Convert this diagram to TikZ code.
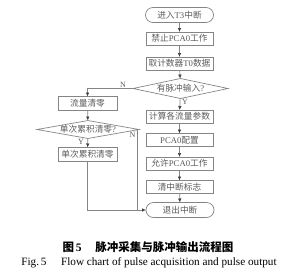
\documentclass[tikz,border=0pt]{standalone}
\usepackage{fontspec}
\setmainfont{Liberation Serif}
\newfontfamily\cjk{Noto Sans CJK SC}
\newfontfamily\latn{Liberation Serif}
\usetikzlibrary{shapes.geometric,arrows.meta}
\definecolor{lc}{HTML}{858585}
\definecolor{tc}{HTML}{5A5A5A}
\definecolor{ac}{HTML}{404040}
\begin{document}
\begin{tikzpicture}[x=1pt,y=-1pt,
  every node/.style={inner sep=0pt,outer sep=0pt},
  box/.style={draw=lc,line width=0.7pt,minimum width=67pt,minimum height=13pt,text=tc,font=\fontsize{8.7}{9}\selectfont\cjk},
  lbox/.style={box,minimum width=59pt,minimum height=14pt},
  term/.style={box,minimum width=68pt,minimum height=15pt,rounded corners=7.5pt},
  dec/.style={draw=lc,line width=0.7pt,diamond,text=tc,font=\fontsize{8.7}{9}\selectfont\cjk},
  lbl/.style={text=tc,font=\fontsize{8}{9}\selectfont\latn},
  conn/.style={draw=lc,line width=0.7pt,-{Latex[length=4pt,width=3.6pt,color=ac]}},
  line/.style={draw=lc,line width=0.7pt}]
\useasboundingbox (0,0) rectangle (286,276);
% main column
\node[term] (start) at (179.5,15) {进入{\latn T3}中断};
\node[box] (b1) at (179.5,38.5) {禁止{\latn PCA0}工作};
\node[box] (b2) at (179.5,63.5) {取计数器{\latn T0}数据};
\node[dec,minimum width=95pt,minimum height=20pt,aspect=4.75] (d1) at (180.5,88.5) {有脉冲输入{\latn ?}};
\node[box] (b3) at (179.5,116.5) {计算各流量参数};
\node[box] (b4) at (179.5,140) {{\latn PCA0}配置};
\node[box] (b5) at (179.5,163.5) {允许{\latn PCA0}工作};
\node[box] (b6) at (179.5,187) {清中断标志};
\node[term] (end) at (180,210) {退出中断};
% left column
\node[lbox] (l1) at (87.5,103.5) {流量清零};
\node[dec,minimum width=86pt,minimum height=15pt,aspect=5.7] (d2) at (88,129.5) {单次累积清零{\latn ?}};
\node[lbox] (l2) at (87.5,154.5) {单次累积清零};
% helper coordinates
\coordinate (c1) at (87.5,88.5);
\coordinate (c2) at (137,129.5);
\coordinate (c3) at (137,210);
\coordinate (c4) at (87.5,210);
% connectors
\draw[conn] (start) -- (b1);
\draw[conn] (b1) -- (b2);
\draw[conn] (b2) -- (d1);
\draw[conn] (d1) -- (b3);
\draw[conn] (b3) -- (b4);
\draw[conn] (b4) -- (b5);
\draw[conn] (b5) -- (b6);
\draw[conn] (b6) -- (end);
\draw[conn] (d1.west) -- (c1) -- (l1);
\draw[conn] (l1) -- (d2);
\draw[conn] (d2) -- (l2);
\draw[line] (d2.east) -- (c2) -- (c3);
\draw[conn] (l2) -- (c4) -- (end.west);
% labels
\node[lbl] (n1) at (123,85) {N};
\node[lbl] (y1) at (185,102) {Y};
\node[lbl] (n2) at (132.5,135) {N};
\node[lbl] (y2) at (81,141.5) {Y};
% captions
\node[font=\fontsize{11.5}{13}\selectfont\cjk\bfseries] (cap1) at (148,247) {图\,{\latn 5}\hspace{1.2em}脉冲采集与脉冲输出流程图};
\node[font=\fontsize{11.2}{12}\selectfont\latn] (cap2) at (149,262.5) {Fig.\,5\hspace{1.3em}Flow chart of pulse acquisition and pulse output};
\end{tikzpicture}
\end{document}
